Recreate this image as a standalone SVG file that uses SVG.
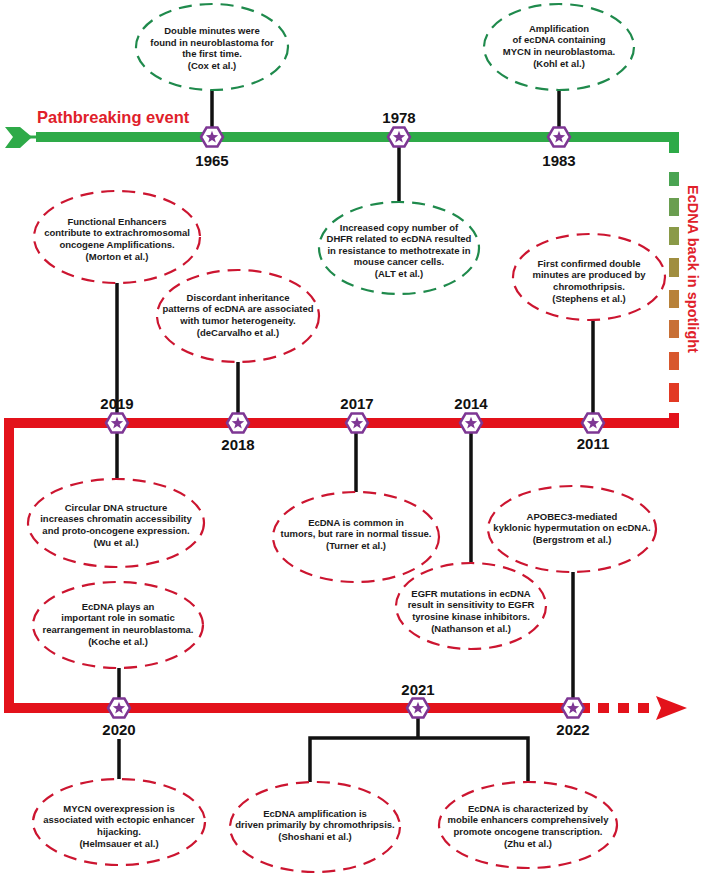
<svg xmlns="http://www.w3.org/2000/svg" xmlns:xlink="http://www.w3.org/1999/xlink" width="702" height="877" viewBox="0 0 702 877">
<style>
.t{font-family:"Liberation Sans",Arial,sans-serif;font-weight:bold;font-size:9.5px;fill:#1a1a1a;text-anchor:middle}
.yr{font-family:"Liberation Sans",Arial,sans-serif;font-weight:bold;font-size:15px;fill:#111;text-anchor:middle}
.eg{fill:#fff;stroke:#1f8a4c;stroke-width:2.2;stroke-dasharray:13 8}
.er{fill:#fff;stroke:#cc1530;stroke-width:2.2;stroke-dasharray:13 8}
.c{stroke:#111;stroke-width:3.5;fill:none}
</style>
<defs>
<g id="hex">
<polygon points="-11,0 -5.5,-9.5 5.5,-9.5 11,0 5.5,9.5 -5.5,9.5" fill="#fff" stroke="#7e3794" stroke-width="2.5"/>
<polygon points="0,-6.2 1.59,-1.88 6.18,-1.71 2.57,1.13 3.82,5.56 0,3 -3.82,5.56 -2.57,1.13 -6.18,-1.71 -1.59,-1.88" fill="#7e3794"/>
</g>
</defs>
<rect width="702" height="877" fill="#fff"/>

<g id="timeline">
<polygon points="5,127 20,127 32,137 20,148 5,148 13,137" fill="#2eaa48"/>
<line x1="30" y1="137" x2="37" y2="137" stroke="#2eaa48" stroke-width="3"/>
<path d="M36 137 H674 V153" fill="none" stroke="#2eaa48" stroke-width="10"/>
<rect x="669" y="172" width="10" height="14" fill="#4aa452"/>
<rect x="669" y="198" width="10" height="18" fill="#6a9e50"/>
<rect x="669" y="227" width="10" height="18" fill="#8a9a48"/>
<rect x="669" y="258" width="10" height="19" fill="#a08e40"/>
<rect x="669" y="290" width="10" height="18" fill="#b8823a"/>
<rect x="669" y="320" width="10" height="18" fill="#c87036"/>
<rect x="669" y="352" width="10" height="18" fill="#d8582e"/>
<rect x="669" y="383" width="10" height="19" fill="#e23a24"/>
<path d="M674 413 V423 H9 V708 H590" fill="none" stroke="#e3121b" stroke-width="10"/>
<rect x="598" y="703" width="11" height="10" fill="#e3121b"/>
<rect x="618" y="703" width="11" height="10" fill="#e3121b"/>
<rect x="638" y="703" width="11" height="10" fill="#e3121b"/>
<polygon points="656,696 687,708 656,720 661,708" fill="#e3121b"/>
<text x="37" y="123" font-family="'Liberation Sans',Arial,sans-serif" font-weight="bold" font-size="16.5" fill="#e0202a">Pathbreaking event</text>
<text transform="translate(688,269) rotate(90)" text-anchor="middle" font-family="'Liberation Sans',Arial,sans-serif" font-weight="bold" font-size="14.5" fill="#e0202a">EcDNA back in spotlight</text>
</g>

<g id="connectors">
<line class="c" x1="212" y1="90" x2="212" y2="128"/>
<line class="c" x1="559" y1="90" x2="559" y2="128"/>
<line class="c" x1="399" y1="147" x2="399" y2="202"/>
<line class="c" x1="117" y1="283" x2="117" y2="414"/>
<line class="c" x1="238" y1="362" x2="238" y2="414"/>
<line class="c" x1="593" y1="320" x2="593" y2="414"/>
<line class="c" x1="117" y1="432" x2="117" y2="480"/>
<line class="c" x1="356" y1="432" x2="356" y2="492"/>
<line class="c" x1="471" y1="432" x2="471" y2="563"/>
<line class="c" x1="119" y1="668" x2="119" y2="699"/>
<line class="c" x1="573" y1="572" x2="573" y2="699"/>
<line class="c" x1="119" y1="739" x2="119" y2="780"/>
<path class="c" d="M418 717 V738 M310 782 V738 H528 V782"/>
</g>

<g id="m1965"><use xlink:href="#hex" href="#hex" x="212" y="137"/><text class="yr" x="212" y="166">1965</text></g>
<g id="m1978"><use xlink:href="#hex" href="#hex" x="399" y="137"/><text class="yr" x="399" y="123">1978</text></g>
<g id="m1983"><use xlink:href="#hex" href="#hex" x="559" y="137"/><text class="yr" x="559" y="166">1983</text></g>
<g id="m2019"><use xlink:href="#hex" href="#hex" x="117" y="423"/><text class="yr" x="117" y="409">2019</text></g>
<g id="m2018"><use xlink:href="#hex" href="#hex" x="238" y="423"/><text class="yr" x="238" y="450">2018</text></g>
<g id="m2017"><use xlink:href="#hex" href="#hex" x="357" y="423"/><text class="yr" x="357" y="409">2017</text></g>
<g id="m2014"><use xlink:href="#hex" href="#hex" x="471" y="423"/><text class="yr" x="471" y="409">2014</text></g>
<g id="m2011"><use xlink:href="#hex" href="#hex" x="593" y="423"/><text class="yr" x="593" y="449">2011</text></g>
<g id="m2020"><use xlink:href="#hex" href="#hex" x="119" y="708"/><text class="yr" x="119" y="735">2020</text></g>
<g id="m2021"><use xlink:href="#hex" href="#hex" x="418" y="708"/><text class="yr" x="418" y="695">2021</text></g>
<g id="m2022"><use xlink:href="#hex" href="#hex" x="573" y="708"/><text class="yr" x="573" y="735">2022</text></g>

<g id="cox"><ellipse class="eg" cx="212" cy="47" rx="76" ry="43"/>
<text class="t" y="34"><tspan x="212">Double minutes were</tspan><tspan x="212" dy="11.7">found in neuroblastoma for</tspan><tspan x="212" dy="11.7">the first time.</tspan><tspan x="212" dy="11.7">(Cox et al.)</tspan></text></g>

<g id="kohl"><ellipse class="eg" cx="559" cy="47" rx="75" ry="43"/>
<text class="t" y="31.5"><tspan x="559">Amplification</tspan><tspan x="559" dy="11.7">of ecDNA containing</tspan><tspan x="559" dy="11.7">MYCN in neuroblastoma.</tspan><tspan x="559" dy="11.7">(Kohl et al.)</tspan></text></g>

<g id="alt"><ellipse class="eg" cx="399" cy="248" rx="80" ry="46"/>
<text class="t" y="230.5"><tspan x="399">Increased copy number of</tspan><tspan x="399" dy="11.5">DHFR related to ecDNA resulted</tspan><tspan x="399" dy="11.5">in resistance to methotrexate in</tspan><tspan x="399" dy="11.5">mouse cancer cells.</tspan><tspan x="399" dy="11.5">(ALT et al.)</tspan></text></g>

<g id="morton"><ellipse class="er" cx="117" cy="237" rx="83" ry="46"/>
<text class="t" y="224.5"><tspan x="117">Functional Enhancers</tspan><tspan x="117" dy="11.7">contribute to extrachromosomal</tspan><tspan x="117" dy="11.7">oncogene Amplifications.</tspan><tspan x="117" dy="11.7">(Morton et al.)</tspan></text></g>

<g id="decarvalho"><ellipse class="er" cx="238" cy="316" rx="81" ry="46"/>
<text class="t" y="300.5"><tspan x="238">Discordant inheritance</tspan><tspan x="238" dy="11.7">patterns of ecDNA are associated</tspan><tspan x="238" dy="11.7">with tumor heterogeneity.</tspan><tspan x="238" dy="11.7">(deCarvalho et al.)</tspan></text></g>

<g id="stephens"><ellipse class="er" cx="589" cy="277" rx="76" ry="43"/>
<text class="t" y="266.5"><tspan x="589">First confirmed double</tspan><tspan x="589" dy="11.7">minutes are produced by</tspan><tspan x="589" dy="11.7">chromothripsis.</tspan><tspan x="589" dy="11.7">(Stephens et al.)</tspan></text></g>

<g id="wu"><ellipse class="er" cx="116" cy="523" rx="88" ry="44"/>
<text class="t" y="510.5"><tspan x="116">Circular DNA structure</tspan><tspan x="116" dy="11.7">increases chromatin accessibility</tspan><tspan x="116" dy="11.7">and proto-oncogene expression.</tspan><tspan x="116" dy="11.7">(Wu et al.)</tspan></text></g>

<g id="koche"><ellipse class="er" cx="118" cy="625" rx="85" ry="43"/>
<text class="t" y="609.5"><tspan x="118">EcDNA plays an</tspan><tspan x="118" dy="11.7">important role in somatic</tspan><tspan x="118" dy="11.7">rearrangement in neuroblastoma.</tspan><tspan x="118" dy="11.7">(Koche et al.)</tspan></text></g>

<g id="turner"><ellipse class="er" cx="356" cy="537" rx="83" ry="45"/>
<text class="t" y="525.5"><tspan x="356">EcDNA is common in</tspan><tspan x="356" dy="11.7">tumors, but rare in normal tissue.</tspan><tspan x="356" dy="11.7">(Turner et al.)</tspan></text></g>

<g id="nathanson"><ellipse class="er" cx="471" cy="606" rx="75" ry="43"/>
<text class="t" y="596.5"><tspan x="471">EGFR mutations in ecDNA</tspan><tspan x="471" dy="11.7">result in sensitivity to EGFR</tspan><tspan x="471" dy="11.7">tyrosine kinase inhibitors.</tspan><tspan x="471" dy="11.7">(Nathanson et al.)</tspan></text></g>

<g id="bergstrom"><ellipse class="er" cx="572" cy="529" rx="84" ry="43"/>
<text class="t" y="519.5"><tspan x="572">APOBEC3-mediated</tspan><tspan x="572" dy="11.7">kyklonic hypermutation on ecDNA.</tspan><tspan x="572" dy="11.7">(Bergstrom et al.)</tspan></text></g>

<g id="helmsauer"><ellipse class="er" cx="119" cy="822" rx="86" ry="43"/>
<text class="t" y="811.5"><tspan x="119">MYCN overexpression is</tspan><tspan x="119" dy="11.7">associated with ectopic enhancer</tspan><tspan x="119" dy="11.7">hijacking.</tspan><tspan x="119" dy="11.7">(Helmsauer et al.)</tspan></text></g>

<g id="shoshani"><ellipse class="er" cx="315" cy="827" rx="85" ry="45"/>
<text class="t" y="816.5"><tspan x="315">EcDNA amplification is</tspan><tspan x="315" dy="11.7">driven primarily by chromothripsis.</tspan><tspan x="315" dy="11.7">(Shoshani et al.)</tspan></text></g>

<g id="zhu"><ellipse class="er" cx="528" cy="825" rx="89" ry="43"/>
<text class="t" y="811.5"><tspan x="528">EcDNA is characterized by</tspan><tspan x="528" dy="11.7">mobile enhancers comprehensively</tspan><tspan x="528" dy="11.7">promote oncogene transcription.</tspan><tspan x="528" dy="11.7">(Zhu et al.)</tspan></text></g>
</svg>
